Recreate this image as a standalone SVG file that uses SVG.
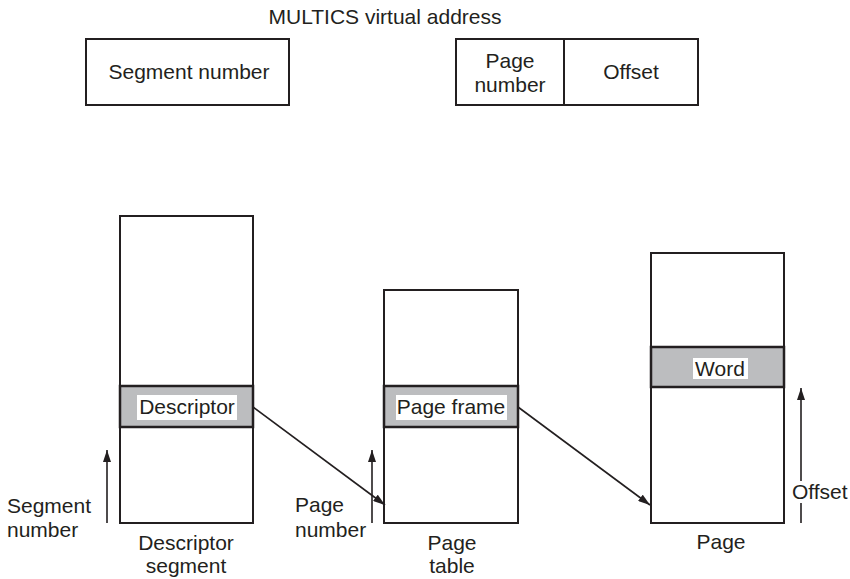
<svg xmlns="http://www.w3.org/2000/svg" width="850" height="579" viewBox="0 0 850 579">
<style>
text{font-family:"Liberation Sans",Arial,sans-serif;font-size:21px;fill:#231f20}
.c{text-anchor:middle}
.box{fill:#fff;stroke:#231f20;stroke-width:2}
.band{fill:#bcbdbf;stroke:#231f20;stroke-width:2.5}
.lbl{fill:#fff}
.ln{stroke:#231f20;stroke-width:1.6;fill:none}
</style>
<defs>
<marker id="ah" viewBox="0 0 12 8" refX="12" refY="4" markerWidth="12" markerHeight="8" markerUnits="userSpaceOnUse" orient="auto">
<path d="M0,0 L12,4 L0,8 Z" fill="#231f20"/>
</marker>
</defs>
<rect width="850" height="579" fill="#fff"/>
<text class="c" x="385" y="24">MULTICS virtual address</text>
<g id="seg-field">
<rect class="box" x="86" y="39" width="203" height="66"/>
<text class="c" x="189" y="79">Segment number</text>
</g>
<g id="page-offset-field">
<rect class="box" x="456" y="39" width="242" height="66"/>
<line class="ln" x1="564" y1="39" x2="564" y2="105" style="stroke-width:2"/>
<text class="c" x="510" y="68">Page</text>
<text class="c" x="510" y="92">number</text>
<text class="c" x="631" y="79">Offset</text>
</g>
<g id="descriptor-segment">
<rect class="box" x="120" y="216" width="133" height="307"/>
<rect class="band" x="120" y="386" width="133" height="41"/>
<rect class="lbl" x="137" y="395" width="100" height="25"/>
<text class="c" x="187" y="414">Descriptor</text>
<text class="c" x="186" y="550">Descriptor</text>
<text class="c" x="186" y="573">segment</text>
</g>
<g id="page-table">
<rect class="box" x="384" y="290" width="134" height="233"/>
<rect class="band" x="384" y="386" width="134" height="41"/>
<rect class="lbl" x="396" y="395" width="111" height="25"/>
<text class="c" x="451" y="414">Page frame</text>
<text class="c" x="452" y="550">Page</text>
<text class="c" x="452" y="573">table</text>
</g>
<g id="page">
<rect class="box" x="651" y="253" width="133" height="270"/>
<rect class="band" x="651" y="347" width="133" height="40"/>
<rect class="lbl" x="693" y="358" width="55" height="21"/>
<text class="c" x="720" y="376">Word</text>
<text class="c" x="721" y="549">Page</text>
</g>
<g id="labels">
<text x="7" y="513">Segment</text>
<text x="7" y="537">number</text>
<text x="295" y="512">Page</text>
<text x="295" y="537">number</text>
</g>
<g id="connectors">
<line class="ln" x1="107" y1="523" x2="107" y2="450" marker-end="url(#ah)"/>
<line class="ln" x1="372" y1="523" x2="372" y2="450" marker-end="url(#ah)"/>
<line class="ln" x1="801" y1="523" x2="801" y2="388" marker-end="url(#ah)"/>
<line class="ln" x1="253" y1="407" x2="385" y2="505" marker-end="url(#ah)"/>
<line class="ln" x1="518" y1="407" x2="650" y2="505" marker-end="url(#ah)"/>
</g>
<g id="offset-label">
<rect fill="#fff" x="792" y="481" width="56" height="22"/>
<text x="792" y="499">Offset</text>
</g>
</svg>
